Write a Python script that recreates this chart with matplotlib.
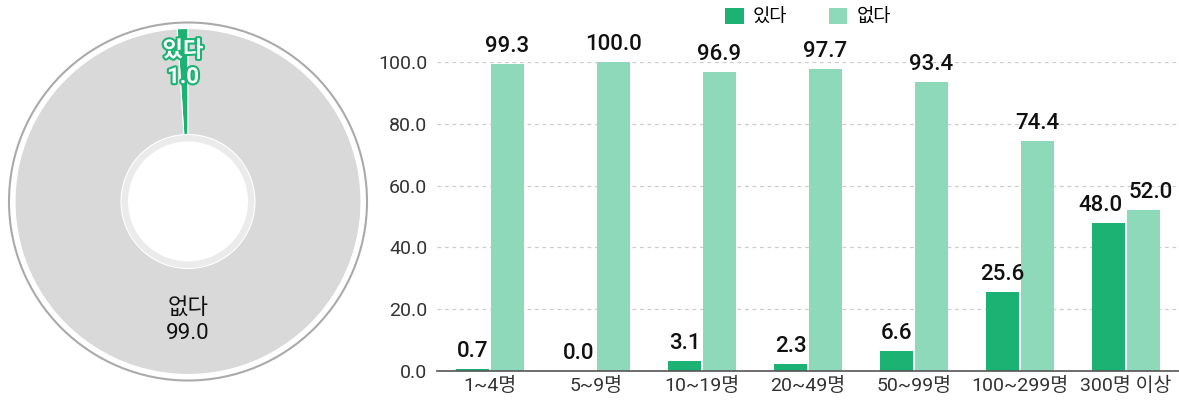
import matplotlib.pyplot as plt
import matplotlib.patheffects as pe
from matplotlib.patches import Circle
import numpy as np

plt.rcParams['font.family'] = ['Roboto', 'Noto Sans CJK KR', 'DejaVu Sans']

# 전체 응답 (도넛)
donut_labels = ['있다', '없다']
donut_values = [1.0, 99.0]

# 규모별 응답 (막대)
categories = ['1~4명', '5~9명', '10~19명', '20~49명', '50~99명', '100~299명', '300명 이상']
yes_values = [0.7, 0.0, 3.1, 2.3, 6.6, 25.6, 48.0]
no_values = [99.3, 100.0, 96.9, 97.7, 93.4, 74.4, 52.0]
y_ticks = [0, 20, 40, 60, 80, 100]

GREEN = '#1bb273'
LIGHT_GREEN = '#8ed9ba'
GRAY = '#d9d9d9'

W, H = 1179, 400
fig = plt.figure(figsize=(W / 100, H / 100), dpi=100)

# ---- 도넛 차트 ----
ax_d = fig.add_axes([0, 0, 370 / W, 1])
cx, cy = 188, 198.5
ax_d.add_patch(Circle((cx, cy), 179, facecolor='white', edgecolor='#aaaaaa', linewidth=1.5))
ax_d.add_patch(Circle((cx, cy), 67, facecolor='#ebebeb', edgecolor='none'))
ax_d.pie(donut_values, colors=[GREEN, GRAY], startangle=90, counterclock=True,
         radius=173, center=(cx, cy),
         wedgeprops=dict(width=106, edgecolor='white', linewidth=0.8))
ax_d.add_patch(Circle((cx, cy), 60, facecolor='white', edgecolor='none'))
ax_d.set_xlim(0, 370)
ax_d.set_ylim(0, 400)
ax_d.set_aspect('auto')
ax_d.axis('off')

ax_d.text(183, 336, f'{donut_labels[0]}\n{donut_values[0]:.1f}', ha='center', va='center',
          fontsize=16, fontweight='bold', color='white', linespacing=1.25,
          path_effects=[pe.withStroke(linewidth=3, foreground=GREEN)])
ax_d.text(188, 79, f'{donut_labels[1]}\n{donut_values[1]:.1f}', ha='center', va='center',
          fontsize=16, color='#111111', linespacing=1.25)

# ---- 막대 차트 ----
ax = fig.add_axes([437 / W, 29 / H, 742 / W, 309 / H])
x = np.arange(len(categories))
w = 0.32
b1 = ax.bar(x - w / 2 - 0.005, yes_values, w, color=GREEN, label='있다', zorder=3)
b2 = ax.bar(x + w / 2 + 0.005, no_values, w, color=LIGHT_GREEN, label='없다', zorder=3)

# 값 라벨: 두 막대 높이가 비슷하면 서로 겹치지 않게 좌우로 벌림
for i in range(len(categories)):
    close = abs(yes_values[i] - no_values[i]) < 10
    for rect, v, dx in ((b1[i], yes_values[i], -6), (b2[i], no_values[i], 5)):
        ax.annotate(f'{v:.1f}', (rect.get_x() + rect.get_width() / 2, v),
                    xytext=(dx if close else 0, 5), textcoords='offset points',
                    ha='center', va='bottom',
                    fontsize=16, fontweight='medium', color='#111111')

ax.set_xlim(-0.5, len(categories) - 0.5)
ax.set_ylim(0, 100)
ax.set_yticks(y_ticks)
ax.set_yticklabels([f'{t:.1f}' for t in y_ticks])
ax.set_xticks(x)
ax.set_xticklabels(categories)
ax.tick_params(length=0, labelsize=14, colors='#333333')
ax.tick_params(axis='y', pad=7)
ax.tick_params(axis='x', pad=4)
ax.yaxis.grid(True, linestyle=(0, (3, 3)), color='#cccccc', linewidth=0.9, zorder=0)
for s in ['top', 'right', 'left']:
    ax.spines[s].set_visible(False)
ax.spines['bottom'].set_color('#555555')
ax.spines['bottom'].set_linewidth(1.2)
ax.spines['bottom'].set_zorder(4)

fig.legend(handles=[b1, b2], labels=['있다', '없다'], loc='center', bbox_to_anchor=(808 / W, 1 - 17 / H),
           ncol=2, frameon=False, fontsize=13.5, handlelength=1.0, handleheight=1.0,
           columnspacing=2.2, handletextpad=0.5)

fig.savefig('out.png', dpi=100)
